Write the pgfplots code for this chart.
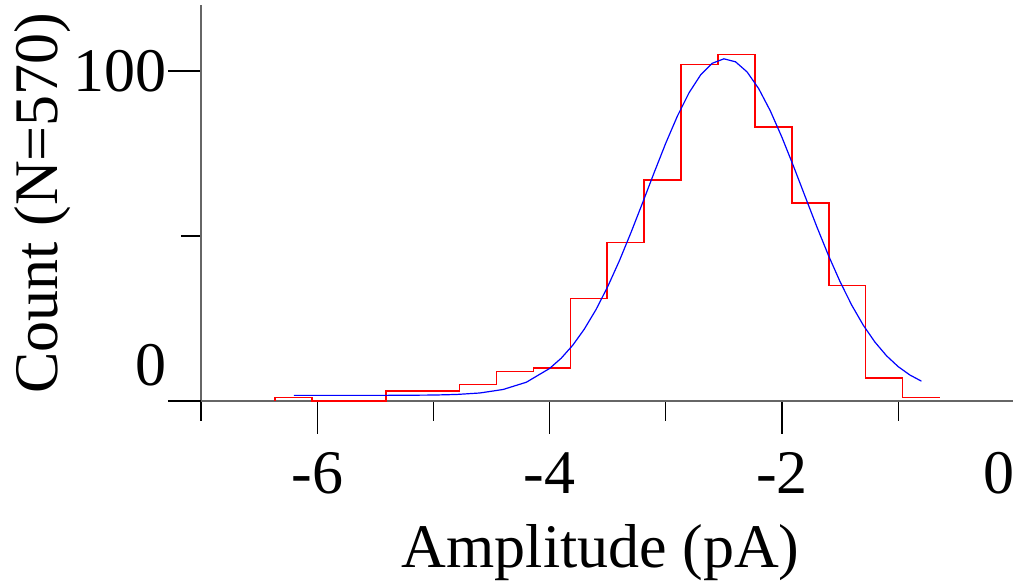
\documentclass[border=0pt]{standalone}
\usepackage{pgfplots}
\pgfplotsset{compat=1.18}
\usepackage{fontspec}
\setmainfont{Liberation Serif}
\begin{document}
\begin{tikzpicture}
\begin{axis}[
  scale only axis,
  width=813.4bp, height=396bp,
  xmin=-7, xmax=0, ymin=0, ymax=120,
  axis x line=bottom, axis y line=left,
  axis line style={-, draw=black!60, line width=1.6bp},
  tick align=outside,
  major tick length=33bp, minor tick length=20bp,
  every tick/.style={black, line width=1.3bp},
  xtick={-6,-4,-2}, xticklabels={-6,-4,-2},
  minor xtick={-7,-5,-3,-1},
  extra x ticks={0}, extra x tick labels={0},
  extra x tick style={xticklabel style={xshift=-15bp}},
  ytick={100}, yticklabels={100},
  minor ytick={50},
  extra y ticks={0}, extra y tick labels={0},
  extra y tick style={yticklabel style={yshift=36bp}},
  /pgf/number format/assume math mode=true,
  tick label style={font=\fontsize{62bp}{74bp}\selectfont, inner sep=1bp},
  xticklabel style={yshift=-17bp},
  label style={font=\fontsize{62bp}{74bp}\selectfont, inner sep=0pt},
  xlabel={Amplitude (pA)},
  xlabel style={at={(axis description cs:0.4915,0)}, anchor=base, yshift=-166bp},
  ylabel={Count (N=570)},
  ylabel style={at={([xshift=-143bp]axis description cs:0,0.5)}, anchor=base, rotate=0},
  clip=false,
]
\coordinate (bl) at (rel axis cs:0,0);
\addplot[const plot, red, line width=1.5bp] coordinates {
(-6.363,0) (-6.363,1) (-6.045,0) (-5.728,0) (-5.410,3) (-5.092,3) (-4.775,5)
(-4.457,9) (-4.139,10) (-3.821,31) (-3.504,48) (-3.186,67) (-2.868,102)
(-2.550,105) (-2.233,83) (-1.915,60) (-1.597,35) (-1.280,7) (-0.962,1) (-0.644,1)
};
\addplot[blue, line width=1.2bp] coordinates {
(-6.2,1.7) (-5.8,1.7) (-5.4,1.71) (-5.0,1.80) (-4.8,1.98) (-4.6,2.43)
(-4.4,3.49) (-4.2,5.69) (-4.0,9.86) (-3.9,12.97) (-3.8,16.93) (-3.7,21.85)
(-3.6,27.74) (-3.5,34.65) (-3.4,42.45) (-3.3,51.01) (-3.2,60.04) (-3.1,69.23)
(-3.0,78.16) (-2.9,86.36) (-2.8,93.40) (-2.7,98.83) (-2.6,102.34) (-2.5,103.69)
(-2.4,102.79) (-2.3,99.70) (-2.2,94.62) (-2.1,87.88) (-2.0,79.87) (-1.9,71.06)
(-1.8,61.89) (-1.7,52.78) (-1.6,44.10) (-1.5,36.14) (-1.4,29.05) (-1.3,22.94)
(-1.2,17.84) (-1.1,13.69) (-1.0,10.41) (-0.9,7.89) (-0.8,6.01)
};
\end{axis}
\pgfresetboundingbox
\path ([shift={(-201bp,-182bp)}]bl) rectangle ++(1013bp,583bp);
\end{tikzpicture}
\end{document}
